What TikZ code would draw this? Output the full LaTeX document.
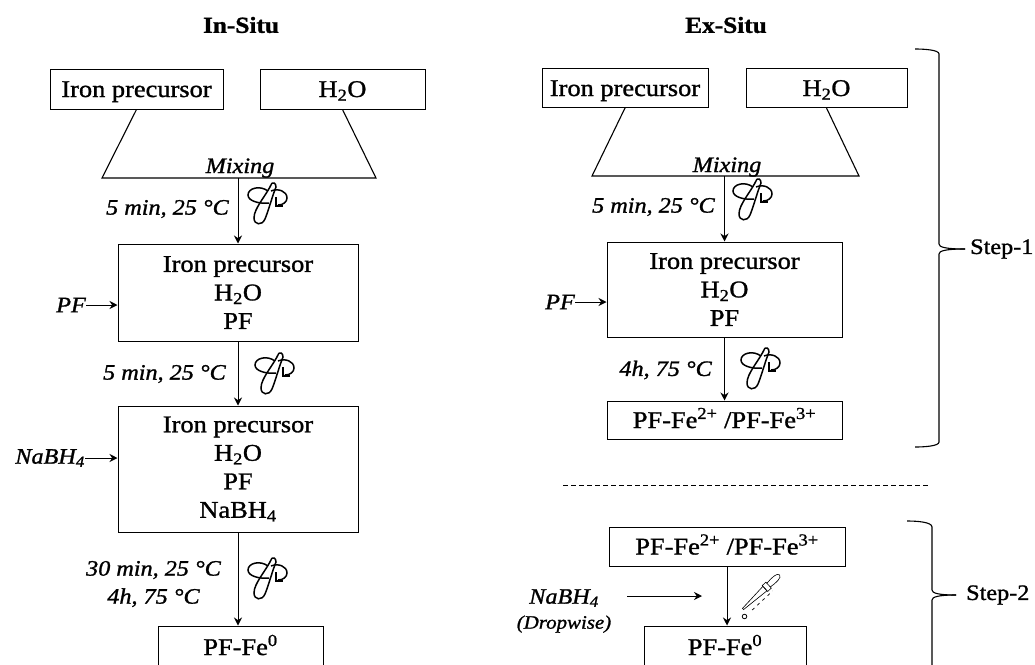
\documentclass[tikz,border=0pt]{standalone}
\usepackage{fontspec}
\setmainfont[FakeStretch=1.1, FakeBold=1.2]{Liberation Serif}
\usetikzlibrary{arrows.meta}
\tikzset{
  multibox/.style={draw, line width=1pt, align=center, inner sep=0pt, font=\fontsize{24}{28.5}\selectfont},
  boxnode/.style={multibox, text height=17pt, text depth=1pt},
  stepnode/.style={inner sep=0pt, font=\fontsize{22}{26}\selectfont},
  notenode/.style={align=center, inner sep=0pt, font=\fontsize{22}{28}\selectfont\itshape},
  headnode/.style={inner sep=0pt, font=\fontsize{23}{26}\selectfont\bfseries},
  funnel/.style={line width=1.1pt},
  flow/.style={->, line width=1pt},
  stirrer/.pic={
    \draw[line width=1.5pt] (4,-21) .. controls (-2,-8) and (-14,4) .. (-14,14) .. controls (-14,21) and (-6,22) .. (-3,15) .. controls (0,8) and (5,-10) .. (8,-17) .. controls (8,-21) and (5,-22) .. (4,-21);
    \draw[line width=1.5pt] (0,-13) .. controls (-8,-19) and (-20,-16) .. (-20,-9) .. controls (-20,-3) and (-9,0) .. (1,-1);
    \draw[line width=1.5pt] (3,-13) .. controls (10,-16) and (19,-13) .. (19,-6) .. controls (19,-2) and (15,1) .. (10,1);
    \draw[line width=1.5pt] (8,-7) -- (8,2) -- (15,2);
  },
  dropper/.pic={
    \draw[line width=0.6pt] (0,-0.8) -- (0,0.8) -- (30,3) -- (30,-3) -- cycle;
    \draw[line width=0.6pt] (30,-4) rectangle (35,4);
    \draw[line width=0.6pt] (35,-2.5) .. controls (42,-3.5) and (50,-3.5) .. (50,0) .. controls (50,3.5) and (42,3.5) .. (35,2.5);
    \draw[dash pattern=on 3pt off 4pt, line width=0.7pt] (6,7) -- (34,7);
    \draw[line width=0.8pt] (-4,6.5) circle (2.3);
  }
}
\begin{document}
\begin{tikzpicture}[>={Stealth[length=8pt,width=8pt]}, x=1pt, y=-1pt]
\useasboundingbox (0,0) rectangle (1035,664);

% in-situ column
\node[headnode] (ihead) at (241,25) {In-Situ};
\node[boxnode, minimum width=173pt, minimum height=40pt] (iiron) at (136.5,89) {Iron precursor};
\node[boxnode, minimum width=165pt, minimum height=40pt] (iwater) at (342.5,89) {H\textsubscript{2}O};
\coordinate (ileft) at (102,178);
\coordinate (iright) at (376,178);
\node[notenode, anchor=base] (imix) at (240,173) {Mixing};
\draw[funnel] (iiron.south) -- (ileft) -- (iright) -- (iwater.south);
\coordinate (imid) at (238,178);
\node[multibox, minimum width=240pt, minimum height=97pt] (ibox) at (238,292.5) {Iron precursor\\H\textsubscript{2}O\\PF};
\node[multibox, minimum width=240pt, minimum height=126pt] (jbox) at (238,469) {Iron precursor\\H\textsubscript{2}O\\PF\\NaBH\textsubscript{4}};
\node[boxnode, minimum width=165pt, minimum height=42pt] (ifinal) at (240.5,647) {PF-Fe\textsuperscript{0}};
\node[notenode, anchor=east] (it1) at (229,209) {5 min, 25 °C};
\node[notenode, anchor=east] (it2) at (226,374) {5 min, 25 °C};
\node[notenode] (it3) at (153.5,584) {30 min, 25 °C\\4h, 75 °C};
\node[notenode, anchor=east] (ipf) at (86,305) {PF};
\node[notenode, anchor=east] (ina) at (85,458) {NaBH\textsubscript{4}};
\draw[flow] (imid) -- (ibox.north);
\draw[flow] (ibox.south) -- (jbox.north);
\draw[flow] (jbox.south) -- (jbox.south |- ifinal.north);
\draw[flow] (ipf) -- (ibox.west |- ipf);
\draw[flow] (ina) -- (jbox.west |- ina);
\pic at (268,204) {stirrer};
\pic at (275,374) {stirrer};
\pic at (268,579) {stirrer};

% ex-situ column
\node[headnode] (ehead) at (726,25) {Ex-Situ};
\node[boxnode, minimum width=166pt, minimum height=39pt] (eiron) at (625,88) {Iron precursor};
\node[boxnode, minimum width=161pt, minimum height=39pt] (ewater) at (826.5,88) {H\textsubscript{2}O};
\coordinate (eleft) at (592,176);
\coordinate (eright) at (859,176);
\node[notenode, anchor=base] (emix) at (727,172) {Mixing};
\draw[funnel] (eiron.south) -- (eleft) -- (eright) -- (ewater.south);
\coordinate (emid) at (724.5,176);
\node[multibox, minimum width=235pt, minimum height=95pt] (ebox) at (724.5,289.5) {Iron precursor\\H\textsubscript{2}O\\PF};
\node[boxnode, minimum width=235pt, minimum height=38pt] (eprod) at (724.5,420) {PF-Fe\textsuperscript{2+} /PF-Fe\textsuperscript{3+}};
\node[notenode, anchor=east] (et1) at (715,207) {5 min, 25 °C};
\node[notenode, anchor=east] (et2) at (712,370) {4h, 75 °C};
\node[notenode, anchor=east] (epf) at (575,302) {PF};
\draw[flow] (emid) -- (ebox.north);
\draw[flow] (ebox.south) -- (eprod.north);
\draw[flow] (epf) -- (ebox.west |- epf);
\pic at (753,200) {stirrer};
\pic at (761,369) {stirrer};

% dashed separator
\coordinate (sepa) at (563,485);
\coordinate (sepb) at (930,485);
\draw[dash pattern=on 5pt off 3pt, line width=0.7pt] (sepa) -- (sepb);

% step two
\node[boxnode, minimum width=236pt, minimum height=39pt] (fprod) at (727,546.5) {PF-Fe\textsuperscript{2+} /PF-Fe\textsuperscript{3+}};
\node[boxnode, minimum width=162pt, minimum height=42pt] (ffinal) at (725,647) {PF-Fe\textsuperscript{0}};
\node[notenode] (fna) at (564,611) {NaBH\textsubscript{4}\\[-3pt]{\fontsize{19}{22}\selectfont (Dropwise)}};
\coordinate (fstart) at (627,596);
\coordinate (ftip) at (702,596);
\draw[flow] (fstart) -- (ftip);
\draw[flow] (fprod.south) -- (fprod.south |- ffinal.north);
\pic[rotate=43] at (743,609) {dropper};

% braces
\coordinate (bonea) at (915,49);
\coordinate (boneb) at (915,447);
\coordinate (bonec) at (965,249);
\draw[line width=1.1pt] (bonea) .. controls (925,49) and (939,50) .. (939,54) -- (939,244) .. controls (939,247) and (945,249) .. (bonec);
\draw[line width=1.1pt] (boneb) .. controls (925,447) and (939,446) .. (939,442) -- (939,254) .. controls (939,251) and (945,249) .. (bonec);
\node[stepnode, anchor=west] (stepa) at (970,249) {Step-1};
\coordinate (btwoa) at (907,521);
\coordinate (btwob) at (932,670);
\coordinate (btwoc) at (956,595);
\draw[line width=1.1pt] (btwoa) .. controls (917,521) and (932,522) .. (932,527) -- (932,590) .. controls (932,593) and (938,595) .. (btwoc);
\draw[line width=1.1pt] (btwob) -- (932,600) .. controls (932,597) and (938,595) .. (btwoc);
\node[stepnode, anchor=west] (stepb) at (966,595) {Step-2};
\end{tikzpicture}
\end{document}
